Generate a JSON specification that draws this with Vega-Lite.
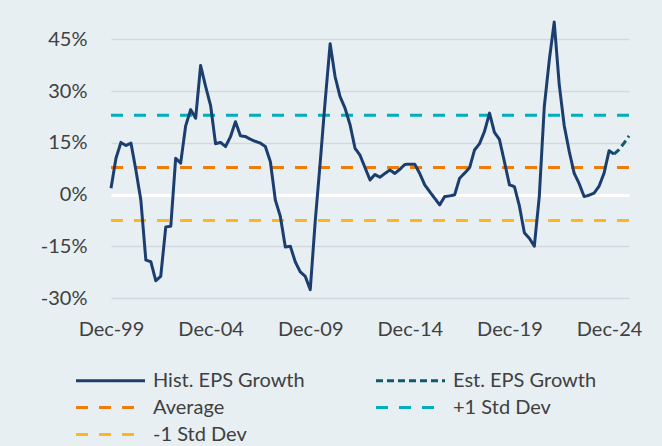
{
  "$schema": "https://vega.github.io/schema/vega-lite/v6.json",
  "autosize": {"type": "none"},
  "width": 518,
  "height": 276,
  "padding": {"left": 111, "top": 22, "right": 33, "bottom": 148},
  "background": "#e7eff3",
  "datasets": {
    "hist": [
      {"date": "1999-12-31T00:00:00", "value": 1.8},
      {"date": "2000-03-31T00:00:00", "value": 10.5},
      {"date": "2000-06-30T00:00:00", "value": 15.1},
      {"date": "2000-09-30T00:00:00", "value": 14.2},
      {"date": "2000-12-31T00:00:00", "value": 14.9},
      {"date": "2001-03-31T00:00:00", "value": 7.1},
      {"date": "2001-06-30T00:00:00", "value": -1.6},
      {"date": "2001-09-30T00:00:00", "value": -19.0},
      {"date": "2001-12-31T00:00:00", "value": -19.5},
      {"date": "2002-03-31T00:00:00", "value": -25.0},
      {"date": "2002-06-30T00:00:00", "value": -23.7},
      {"date": "2002-09-30T00:00:00", "value": -9.4},
      {"date": "2002-12-31T00:00:00", "value": -9.2},
      {"date": "2003-03-31T00:00:00", "value": 10.5},
      {"date": "2003-06-30T00:00:00", "value": 9.1},
      {"date": "2003-09-30T00:00:00", "value": 19.9},
      {"date": "2003-12-31T00:00:00", "value": 24.6},
      {"date": "2004-03-31T00:00:00", "value": 22.1},
      {"date": "2004-06-30T00:00:00", "value": 37.4},
      {"date": "2004-09-30T00:00:00", "value": 31.3},
      {"date": "2004-12-31T00:00:00", "value": 25.7},
      {"date": "2005-03-31T00:00:00", "value": 14.7},
      {"date": "2005-06-30T00:00:00", "value": 15.1},
      {"date": "2005-09-30T00:00:00", "value": 13.9},
      {"date": "2005-12-31T00:00:00", "value": 16.8},
      {"date": "2006-03-31T00:00:00", "value": 21.1},
      {"date": "2006-06-30T00:00:00", "value": 17.0},
      {"date": "2006-09-30T00:00:00", "value": 16.8},
      {"date": "2006-12-31T00:00:00", "value": 16.0},
      {"date": "2007-03-31T00:00:00", "value": 15.4},
      {"date": "2007-06-30T00:00:00", "value": 14.9},
      {"date": "2007-09-30T00:00:00", "value": 13.9},
      {"date": "2007-12-31T00:00:00", "value": 9.5},
      {"date": "2008-03-31T00:00:00", "value": -1.6},
      {"date": "2008-06-30T00:00:00", "value": -6.3},
      {"date": "2008-09-30T00:00:00", "value": -15.2},
      {"date": "2008-12-31T00:00:00", "value": -15.0},
      {"date": "2009-03-31T00:00:00", "value": -19.5},
      {"date": "2009-06-30T00:00:00", "value": -22.4},
      {"date": "2009-09-30T00:00:00", "value": -23.7},
      {"date": "2009-12-31T00:00:00", "value": -27.6},
      {"date": "2010-03-31T00:00:00", "value": -8.0},
      {"date": "2010-06-30T00:00:00", "value": 9.0},
      {"date": "2010-09-30T00:00:00", "value": 27.0},
      {"date": "2010-12-31T00:00:00", "value": 43.7},
      {"date": "2011-03-31T00:00:00", "value": 34.2},
      {"date": "2011-06-30T00:00:00", "value": 28.4},
      {"date": "2011-09-30T00:00:00", "value": 25.0},
      {"date": "2011-12-31T00:00:00", "value": 20.2},
      {"date": "2012-03-31T00:00:00", "value": 13.4},
      {"date": "2012-06-30T00:00:00", "value": 11.4},
      {"date": "2012-09-30T00:00:00", "value": 7.8},
      {"date": "2012-12-31T00:00:00", "value": 4.2},
      {"date": "2013-03-31T00:00:00", "value": 5.8},
      {"date": "2013-06-30T00:00:00", "value": 5.0},
      {"date": "2013-09-30T00:00:00", "value": 6.1},
      {"date": "2013-12-31T00:00:00", "value": 7.1},
      {"date": "2014-03-31T00:00:00", "value": 6.1},
      {"date": "2014-06-30T00:00:00", "value": 7.3},
      {"date": "2014-09-30T00:00:00", "value": 8.7},
      {"date": "2014-12-31T00:00:00", "value": 8.8},
      {"date": "2015-03-31T00:00:00", "value": 8.8},
      {"date": "2015-06-30T00:00:00", "value": 6.1},
      {"date": "2015-09-30T00:00:00", "value": 2.8},
      {"date": "2015-12-31T00:00:00", "value": 0.8},
      {"date": "2016-03-31T00:00:00", "value": -1.1},
      {"date": "2016-06-30T00:00:00", "value": -3.0},
      {"date": "2016-09-30T00:00:00", "value": -0.6},
      {"date": "2016-12-31T00:00:00", "value": -0.4},
      {"date": "2017-03-31T00:00:00", "value": -0.1},
      {"date": "2017-06-30T00:00:00", "value": 4.7},
      {"date": "2017-09-30T00:00:00", "value": 6.2},
      {"date": "2017-12-31T00:00:00", "value": 7.8},
      {"date": "2018-03-31T00:00:00", "value": 12.9},
      {"date": "2018-06-30T00:00:00", "value": 14.7},
      {"date": "2018-09-30T00:00:00", "value": 18.3},
      {"date": "2018-12-31T00:00:00", "value": 23.6},
      {"date": "2019-03-31T00:00:00", "value": 18.0},
      {"date": "2019-06-30T00:00:00", "value": 16.0},
      {"date": "2019-09-30T00:00:00", "value": 9.5},
      {"date": "2019-12-31T00:00:00", "value": 2.8},
      {"date": "2020-03-31T00:00:00", "value": 2.3},
      {"date": "2020-06-30T00:00:00", "value": -3.3},
      {"date": "2020-09-30T00:00:00", "value": -11.1},
      {"date": "2020-12-31T00:00:00", "value": -12.7},
      {"date": "2021-03-31T00:00:00", "value": -15.0},
      {"date": "2021-06-30T00:00:00", "value": -0.6},
      {"date": "2021-09-30T00:00:00", "value": 25.5},
      {"date": "2021-12-31T00:00:00", "value": 39.0},
      {"date": "2022-03-31T00:00:00", "value": 50.0},
      {"date": "2022-06-30T00:00:00", "value": 32.0},
      {"date": "2022-09-30T00:00:00", "value": 20.0},
      {"date": "2022-12-31T00:00:00", "value": 12.5},
      {"date": "2023-03-31T00:00:00", "value": 6.2},
      {"date": "2023-06-30T00:00:00", "value": 3.2},
      {"date": "2023-09-30T00:00:00", "value": -0.6},
      {"date": "2023-12-31T00:00:00", "value": -0.2},
      {"date": "2024-03-31T00:00:00", "value": 0.4},
      {"date": "2024-06-30T00:00:00", "value": 2.4},
      {"date": "2024-09-30T00:00:00", "value": 6.2},
      {"date": "2024-12-31T00:00:00", "value": 12.7},
      {"date": "2025-03-31T00:00:00", "value": 11.7}
    ],
    "est": [
      {"date": "2025-03-31T00:00:00", "value": 11.7},
      {"date": "2025-06-30T00:00:00", "value": 13.0},
      {"date": "2025-09-30T00:00:00", "value": 14.9},
      {"date": "2025-12-31T00:00:00", "value": 17.0}
    ],
    "refs": [
      {"series": "Average", "date": "1999-12-31T00:00:00", "value": 7.8},
      {"series": "Average", "date": "2025-12-31T00:00:00", "value": 7.8},
      {"series": "+1 Std Dev", "date": "1999-12-31T00:00:00", "value": 23.0},
      {"series": "+1 Std Dev", "date": "2025-12-31T00:00:00", "value": 23.0},
      {"series": "-1 Std Dev", "date": "1999-12-31T00:00:00", "value": -7.5},
      {"series": "-1 Std Dev", "date": "2025-12-31T00:00:00", "value": -7.5}
    ]
  },
  "encoding": {
    "x": {
      "field": "date",
      "type": "temporal",
      "title": null,
      "scale": {"domain": [{"year": 1999, "month": 12, "date": 31}, {"year": 2025, "month": 12, "date": 31}]},
      "axis": {
        "values": [
          {"year": 1999, "month": 12, "date": 31},
          {"year": 2004, "month": 12, "date": 31},
          {"year": 2009, "month": 12, "date": 31},
          {"year": 2014, "month": 12, "date": 31},
          {"year": 2019, "month": 12, "date": 31},
          {"year": 2024, "month": 12, "date": 31}
        ],
        "format": "%b-%y",
        "grid": false,
        "domain": false,
        "ticks": false,
        "labelPadding": 21,
        "labelBaseline": "top",
        "labelOverlap": false,
        "labelFlush": false
      }
    },
    "y": {
      "field": "value",
      "type": "quantitative",
      "title": null,
      "scale": {"domain": [-30, 50], "nice": false, "zero": false},
      "axis": {
        "values": [-30, -15, 0, 15, 30, 45],
        "labelExpr": "datum.value + '%'",
        "domain": false,
        "ticks": false,
        "labelPadding": 24,
        "grid": true,
        "gridColor": {"condition": {"test": "datum.value === 0", "value": "#ffffff"}, "value": "#d3dadf"},
        "gridWidth": {"condition": {"test": "datum.value === 0", "value": 3}, "value": 1.5}
      }
    },
    "color": {
      "field": "series",
      "type": "nominal",
      "title": null,
      "scale": {
        "domain": ["Hist. EPS Growth", "Est. EPS Growth", "Average", "+1 Std Dev", "-1 Std Dev"],
        "range": ["#1b3e6f", "#0d5a6c", "#f07d0a", "#00aebb", "#fdb71e"]
      }
    },
    "strokeDash": {
      "field": "series",
      "type": "nominal",
      "title": null,
      "scale": {
        "domain": ["Hist. EPS Growth", "Est. EPS Growth", "Average", "+1 Std Dev", "-1 Std Dev"],
        "range": [[1, 0], [7, 4], [12, 11], [12, 11], [12, 11]]
      }
    }
  },
  "layer": [
    {
      "data": {"name": "refs"},
      "mark": {"type": "line", "strokeWidth": 3}
    },
    {
      "data": {"name": "hist"},
      "transform": [{"calculate": "'Hist. EPS Growth'", "as": "series"}],
      "mark": {"type": "line", "strokeWidth": 3, "strokeJoin": "round"}
    },
    {
      "data": {"name": "est"},
      "transform": [{"calculate": "'Est. EPS Growth'", "as": "series"}],
      "mark": {"type": "line", "strokeWidth": 3}
    }
  ],
  "config": {
    "font": "Lato",
    "view": {"stroke": null},
    "axis": {"labelFont": "Lato", "labelFontSize": 20, "labelColor": "#404040"},
    "legend": {
      "orient": "none",
      "legendX": -11,
      "legendY": 348,
      "direction": "horizontal",
      "columns": 2,
      "symbolType": "M-4,0H4",
      "symbolSize": 297.6,
      "symbolStrokeWidth": 3,
      "labelFont": "Lato",
      "labelFontSize": 20,
      "labelColor": "#404040",
      "labelOffset": 32,
      "rowPadding": 6,
      "columnPadding": 64,
      "labelLimit": 300
    }
  }
}
